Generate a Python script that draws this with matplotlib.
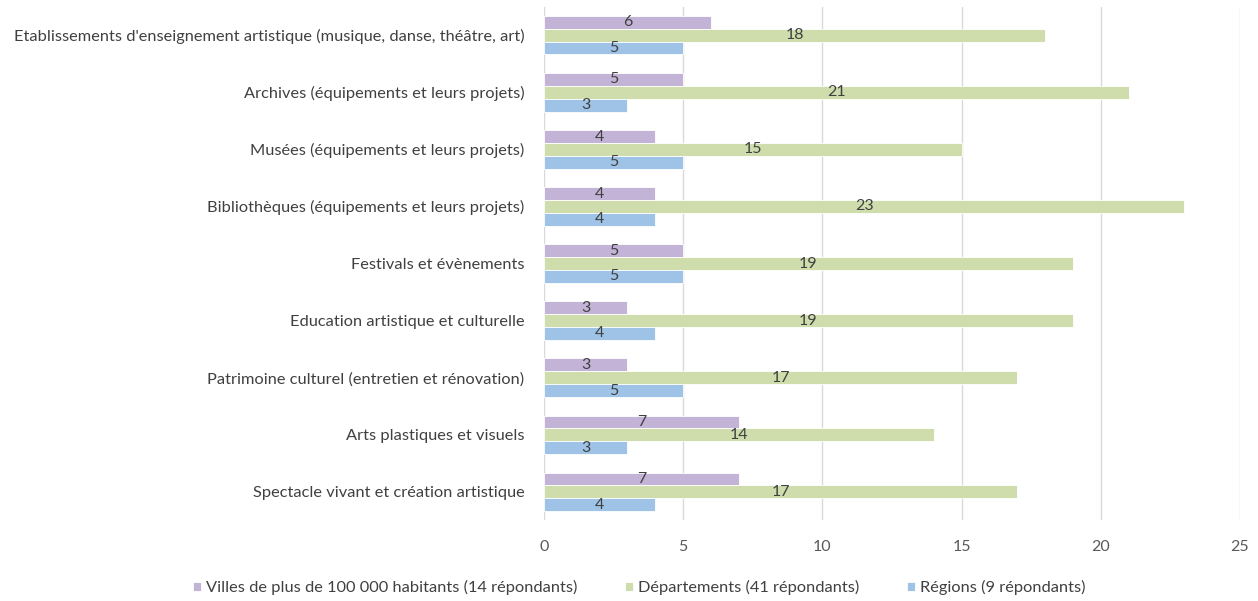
import numpy as np
import matplotlib.pyplot as plt

plt.rcParams['font.family'] = ['Lato', 'DejaVu Sans']

categories = [
    "Etablissements d'enseignement artistique (musique, danse, théâtre, art)",
    "Archives (équipements et leurs projets)",
    "Musées (équipements et leurs projets)",
    "Bibliothèques (équipements et leurs projets)",
    "Festivals et évènements",
    "Education artistique et culturelle",
    "Patrimoine culturel (entretien et rénovation)",
    "Arts plastiques et visuels",
    "Spectacle vivant et création artistique",
]
villes = [6, 5, 4, 4, 5, 3, 3, 7, 7]
departements = [18, 21, 15, 23, 19, 19, 17, 14, 17]
regions = [5, 3, 5, 4, 5, 4, 5, 3, 4]

series = [
    ("Villes de plus de 100 000 habitants (14 répondants)", villes, "#C3B3D6"),
    ("Départements (41 répondants)", departements, "#CFDDAD"),
    ("Régions (9 répondants)", regions, "#9EC3E7"),
]

fig = plt.figure(figsize=(12.58, 6.01), dpi=100)
ax = fig.add_axes([0.4324, 0.134, 0.5533, 0.855])

y = np.arange(len(categories))
h = 0.225
offsets = [-h, 0, h]
bars = []
for (label, vals, color), off in zip(series, offsets):
    b = ax.barh(y + off, vals, height=h, color=color, edgecolor="white",
                linewidth=0.6, label=label, zorder=3)
    bars.append(b)
    for yi, v in zip(y + off, vals):
        ax.text(v / 2, yi, str(v), ha="center", va="center",
                fontsize=11.5, color="#404040", zorder=4)

ax.set_ylim(len(categories) - 0.5, -0.5)
ax.set_xlim(0, 25)
ax.set_xticks(range(0, 26, 5))
ax.set_yticks(y)
ax.set_yticklabels(categories, fontsize=11.8, color="#404040")
ax.tick_params(axis="x", labelsize=11.5, labelcolor="#595959", length=0, pad=14)
ax.tick_params(axis="y", length=0, pad=14)
ax.grid(axis="x", color="#D9D9D9", linewidth=1, zorder=0)
for s in ["top", "right", "bottom", "left"]:
    ax.spines[s].set_visible(False)

leg = fig.legend(handles=bars, loc="center", bbox_to_anchor=(0.508, 0.022),
                 ncol=3, frameon=False, fontsize=11.8, handlelength=0.5,
                 handleheight=0.5, handletextpad=0.3, columnspacing=2.9)
for t in leg.get_texts():
    t.set_color("#404040")

fig.savefig("out.png", dpi=100)
